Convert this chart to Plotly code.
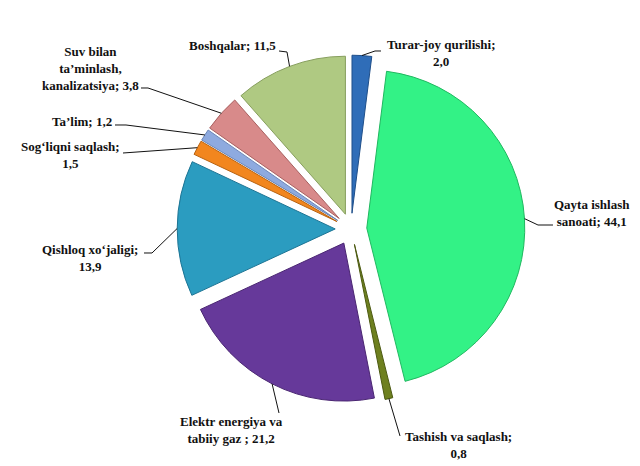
import math
import plotly.graph_objects as go

# ---- data ----
categories = [
    "Turar-joy qurilishi", "Qayta ishlash sanoati", "Tashish va saqlash",
    "Elektr energiya va tabiiy gaz", "Qishloq xo‘jaligi", "Sog‘liqni saqlash",
    "Ta’lim", "Suv bilan ta’minlash, kanalizatsiya", "Boshqalar",
]
values = [2.0, 44.1, 0.8, 21.2, 13.9, 1.5, 1.2, 3.8, 11.5]
label_templates = [
    "Turar-joy qurilishi;<br>{v}",
    "Qayta ishlash<br>sanoati; {v}",
    "Tashish va saqlash;<br>{v}",
    "Elektr energiya va<br>tabiiy gaz ; {v}",
    "Qishloq xo‘jaligi;<br>{v}",
    "Sog‘liqni saqlash;<br>{v}",
    "Ta’lim; {v}",
    "Suv bilan<br>ta’minlash,<br>kanalizatsiya; {v}",
    "Boshqalar; {v}",
]
colors = ["#2F6DB8", "#33F286", "#6E801F", "#66399A", "#2B9CC0",
          "#F2861E", "#8EAADF", "#D88A8A", "#AFC982"]
edge_colors = ["#1F4F8A", "#20B860", "#4C5A12", "#4A2672", "#1C7494",
               "#B8620F", "#6A86B8", "#A86060", "#879F5E"]

# ---- layout geometry (pixels) ----
W, H = 640, 466
PULL = 0.10
R = 158.0  # pie radius in px
CX, CY = 343.0, 221.0
box = R * (2 + 2 * PULL)
dom_y = [(H - CY - box / 2) / H, (H - CY + box / 2) / H]
dom_x = [(CX / W) - 0.4, (CX / W) + 0.4]

# label centres, leader-line starts and elbows (pixels)
label_pos = [(433, 45), (584, 205), (450, 437), (223, 422), (82, 250),
             (62, 147), (74, 113), (82, 61), (224, 38)]
leader_start = [(373, 43), (545, 217), (392, 428), (271, 405), (136, 245),
                (115, 145), (107, 117), (133, 80), (271, 43)]
leader_elbow = [(367, 43), (530, 217), None, None, (144, 245),
                None, (118, 117), (140, 80), (279, 44)]

fig = go.Figure(go.Pie(
    labels=categories, values=values, sort=False, direction="clockwise",
    rotation=0, pull=[PULL] * len(values), textinfo="none",
    marker=dict(colors=colors, line=dict(color=edge_colors, width=1)),
    domain=dict(x=dom_x, y=dom_y), showlegend=False, hoverinfo="label+value",
))

def px2paper(x, y):
    return x / W, 1 - y / H

total = sum(values)
cum = 0.0
for i, v in enumerate(values):
    mid = (cum + v / 2) / total * 2 * math.pi
    cum += v
    ex = CX + (1 + PULL) * R * math.sin(mid)
    ey = CY - (1 + PULL) * R * math.cos(mid)
    pts = [leader_start[i]]
    if leader_elbow[i] is not None:
        pts.append(leader_elbow[i])
    pts.append((ex, ey))
    pp = [px2paper(x, y) for x, y in pts]
    path = "M " + " L ".join(f"{x:.5f},{y:.5f}" for x, y in pp)
    fig.add_shape(type="path", xref="paper", yref="paper", path=path,
                  line=dict(color="#111111", width=1))
    lx, ly = px2paper(*label_pos[i])
    txt = label_templates[i].format(v=f"{v:.1f}".replace(".", ","))
    fig.add_annotation(xref="paper", yref="paper", x=lx, y=ly,
                       text="<b>" + txt.replace("<br>", "</b><br><b>") + "</b>",
                       showarrow=False, xanchor="center", yanchor="middle",
                       align="center",
                       font=dict(family="Liberation Serif", size=13,
                                 color="#111111"))

fig.update_layout(
    width=W, height=H, margin=dict(l=0, r=0, t=0, b=0),
    paper_bgcolor="white", plot_bgcolor="white",
    font=dict(family="Liberation Serif"),
)
fig.write_html("out.html")
